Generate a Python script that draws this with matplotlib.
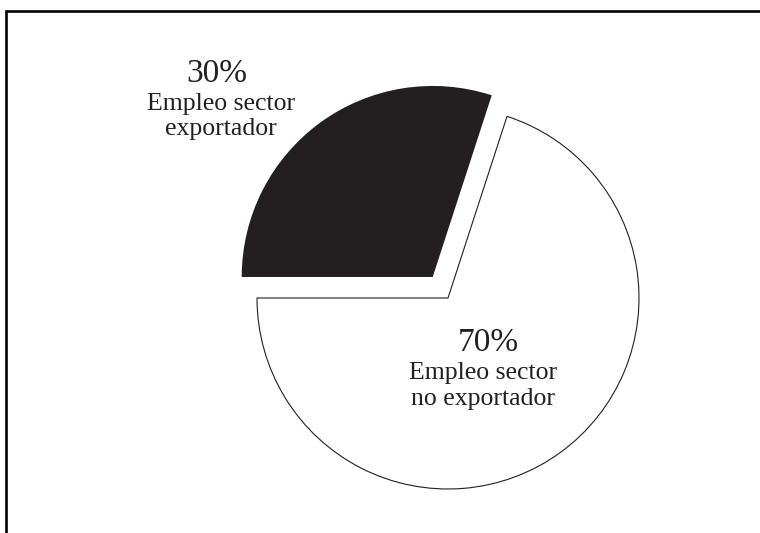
import matplotlib.pyplot as plt

# Data
labels = [["Empleo sector", "exportador"], ["Empleo sector", "no exportador"]]
shares = [30, 70]
pct_text = ["30%", "70%"]
colors = ["#231f20", "white"]

ink = "#231f20"
plt.rcParams["font.family"] = ["Liberation Serif", "DejaVu Serif"]

W, H = 760, 533
fig = plt.figure(figsize=(W / 100, H / 100), dpi=100)
ax = fig.add_axes([0, 0, 1, 1])

# pie in pixel-like data units (y up)
cx, cy, r = 448, H - 298, 191
wedges, _ = ax.pie(
    shares,
    colors=colors,
    startangle=72,
    counterclock=True,
    explode=[26, 0],
    center=(cx, cy),
    radius=r,
    wedgeprops=dict(edgecolor=ink, linewidth=0.8),
)
wedges[0].set_linewidth(0)

ax.set_xlim(0, W)
ax.set_ylim(0, H)
ax.set_aspect("equal")
ax.axis("off")

# outer frame (top and left edges only)
ax.plot([5.5, 5.5, W + 5], [-5, H - 11, H - 11], color="black",
        linewidth=1.9, solid_joinstyle="miter")

# labels: (x of percent, x of text, baseline of percent)
label_pos = [(217, 221, H - 82), (488, 483, H - 351)]
for (xp, xt, y), pct, lines in zip(label_pos, pct_text, labels):
    ax.text(xp, y, pct, ha="center", va="baseline", fontsize=24, color=ink)
    for k, line in enumerate(lines):
        ax.text(xt, y - 28 - 25.5 * k, line, ha="center", va="baseline",
                fontsize=18.5, color=ink)

fig.savefig("out.png", dpi=100)
